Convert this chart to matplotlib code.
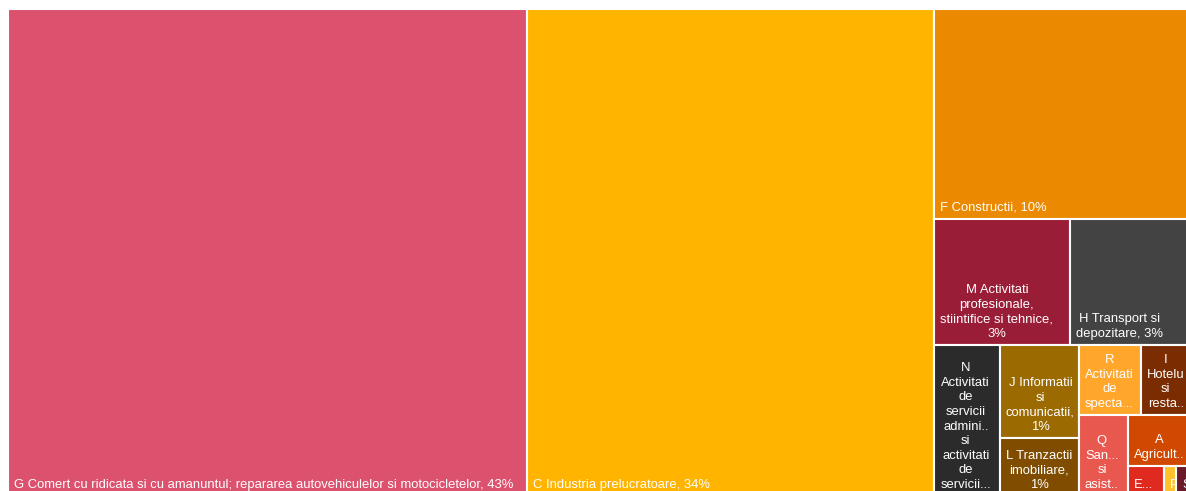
import matplotlib
matplotlib.use("Agg")
import matplotlib.pyplot as plt
from matplotlib.patches import Rectangle

# sectoare CAEN, ponderi (%) citite din treemap
codes = ["G", "C", "F", "M", "H", "N", "J", "L", "R", "I", "Q", "A", "E", "P", "S"]
shares = [43.39, 34.14, 9.689, 2.934, 2.880, 1.700, 1.263, 0.787, 0.747, 0.745,
          0.682, 0.657, 0.186, 0.062, 0.139]
labels = [
    "G Comert cu ridicata si cu amanuntul; repararea autovehiculelor si motocicletelor, 43%",
    "C Industria prelucratoare, 34%",
    "F Constructii, 10%",
    "M Activitati\nprofesionale,\nstiintifice si tehnice,\n3%",
    "H Transport si\ndepozitare, 3%",
    "N\nActivitati\nde\nservicii\nadmini..\nsi\nactivitati\nde\nservicii...",
    "J Informatii\nsi\ncomunicatii,\n1%",
    "L Tranzactii\nimobiliare,\n1%",
    "R\nActivitati\nde\nspecta...",
    "I\nHotelu\nsi\nresta..",
    "Q\nSan...\nsi\nasist..",
    "A\nAgricult..",
    "E...",
    "P...",
    "S...",
]
colors = ["#DC516D", "#FFB400", "#EB8A00", "#9A1D37", "#434343", "#2B2B2B",
          "#9B6A00", "#7F4C00", "#FFA62B", "#7B2C00", "#E9584F", "#D14900",
          "#E0291F", "#FFC22B", "#6B1A2A"]


def squarify(values, x0, y0, x1, y1, ratio=0.75):
    # squarified layout in the style of d3.treemapSquarify
    rects = []
    value = float(sum(values))
    n = len(values)
    i0 = 0
    while i0 < n:
        dx, dy = x1 - x0, y1 - y0
        i1 = i0 + 1
        total = min_v = max_v = values[i0]
        alpha = max(dy / dx, dx / dy) / (value * ratio)
        beta = total * total * alpha
        best = max(max_v / beta, beta / min_v)
        while i1 < n:
            v = values[i1]
            s = total + v
            mn, mx = min(min_v, v), max(max_v, v)
            beta = s * s * alpha
            r = max(mx / beta, beta / mn)
            if r > best:
                break
            total, min_v, max_v, best = s, mn, mx, r
            i1 += 1
        row = values[i0:i1]
        if dx < dy:
            h = dy * total / value
            x = x0
            for v in row:
                w = dx * v / total
                rects.append((x, y0, w, h))
                x += w
            y0 += h
        else:
            w = dx * total / value
            y = y0
            for v in row:
                h = dy * v / total
                rects.append((x0, y, w, h))
                y += h
            x0 += w
        value -= total
        i0 = i1
    return rects


fig = plt.figure(figsize=(11.86, 4.91), dpi=100)
ax = fig.add_axes([0, 0, 1, 1])
ax.set_xlim(0, 1186)
ax.set_ylim(491, 0)
ax.axis("off")

rects = squarify(shares, 8, 9, 1203, 496)
for (x, y, w, h), lab, col in zip(rects, labels, colors):
    cell = Rectangle((x, y), w, h, facecolor=col, edgecolor="white", linewidth=1.5)
    ax.add_patch(cell)
    t = ax.text(x + 6, y + h - 5, lab, color="white", fontsize=9.4,
                family=["Liberation Sans", "DejaVu Sans"],
                ha="left", va="bottom", multialignment="center",
                linespacing=1.29, clip_on=True)
    t.set_clip_path(cell)

fig.savefig("out.png", dpi=100)
